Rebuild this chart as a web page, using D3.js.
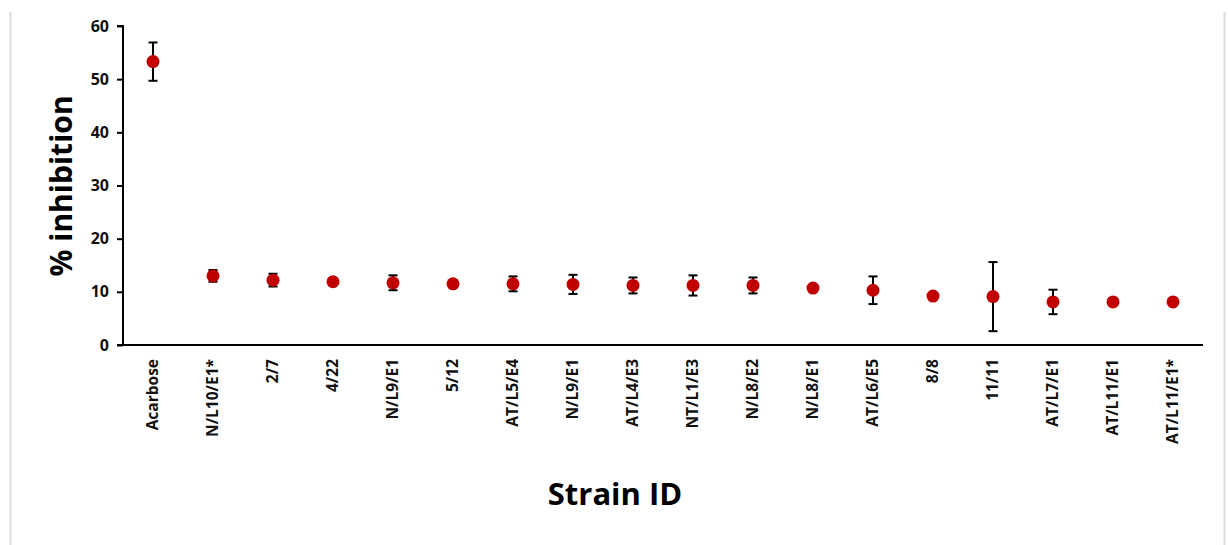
<!DOCTYPE html>
<html><head><meta charset="utf-8">
<script src="https://cdn.jsdelivr.net/npm/d3@7/dist/d3.min.js"></script>
<style>body{margin:0;background:#fff}svg{display:block}</style>
</head><body>
<script>
const categories = ["Acarbose","N/L10/E1*","2/7","4/22","N/L9/E1","5/12","AT/L5/E4","N/L9/E1 ","AT/L4/E3","NT/L1/E3","N/L8/E2","N/L8/E1","AT/L6/E5","8/8","11/11","AT/L7/E1","AT/L11/E1","AT/L11/E1*"];
const means = [53.3,13.0,12.2,11.9,11.7,11.5,11.5,11.4,11.2,11.2,11.2,10.7,10.3,9.2,9.1,8.1,8.1,8.1];
const errors = [3.6,1.1,1.2,0.5,1.4,0.5,1.4,1.8,1.5,1.9,1.5,0.5,2.6,0.3,6.5,2.3,0.3,0.3];
const yTicks = [0,10,20,30,40,50,60];
const yTitle = "% inhibition";
const xTitle = "Strain ID";

const W = 1228, H = 545;
const svg = d3.select("body").append("svg").attr("width", W).attr("height", H);
const font = "'Open Sans', 'Noto Sans', sans-serif";

// frame lines
svg.append("line").attr("x1",10.5).attr("x2",10.5).attr("y1",12).attr("y2",H).attr("stroke","#dcdcdc").attr("stroke-width",2);
svg.append("line").attr("x1",1224.5).attr("x2",1224.5).attr("y1",12).attr("y2",H).attr("stroke","#dcdcdc").attr("stroke-width",2);

const x = d3.scaleBand().domain(categories).range([123, 1203]);
const y = d3.scaleLinear().domain([0, 60]).range([345, 26]);

// y axis
const yAx = svg.append("g").attr("transform","translate(123,0)")
  .call(d3.axisLeft(y).tickValues(yTicks).tickSize(6).tickPadding(8));
yAx.attr("font-size",null).attr("font-family",null);
yAx.select(".domain").attr("stroke","#000").attr("stroke-width",2).attr("d","M-6,26H0V345H-6");
yAx.selectAll(".tick line").attr("stroke","#000").attr("stroke-width",2);
yAx.selectAll(".tick text").style("font-family",font).style("font-weight","bold").style("font-size","16px").attr("fill","#111");

// x axis
const xAx = svg.append("g").attr("transform","translate(0,345)")
  .call(d3.axisBottom(x).tickSize(0).tickPadding(0));
xAx.attr("font-size",null).attr("font-family",null);
xAx.select(".domain").attr("stroke","#000").attr("stroke-width",2).attr("d","M117,0H1203");
xAx.selectAll(".tick text")
  .style("font-family",font).style("font-weight","bold").style("font-size","15.5px").attr("fill","#111")
  .attr("transform","rotate(-90)").attr("text-anchor","end").attr("dy","0.35em").attr("x",-14).attr("y",0)
  .text(d => d.trim());

// error bars
const data = categories.map((c,i)=>({c, m: means[i], e: errors[i]}));
const eb = svg.append("g").selectAll("g").data(data).join("g")
  .attr("transform", d => `translate(${x(d.c)+x.bandwidth()/2},0)`);
eb.append("line").attr("y1", d=>y(d.m+d.e)).attr("y2", d=>y(d.m-d.e)).attr("stroke","#000").attr("stroke-width",2);
eb.append("line").attr("x1",-4.5).attr("x2",4.5).attr("y1", d=>y(d.m+d.e)).attr("y2", d=>y(d.m+d.e)).attr("stroke","#000").attr("stroke-width",2);
eb.append("line").attr("x1",-4.5).attr("x2",4.5).attr("y1", d=>y(d.m-d.e)).attr("y2", d=>y(d.m-d.e)).attr("stroke","#000").attr("stroke-width",2);
eb.append("circle").attr("cy", d=>y(d.m)).attr("r",6.5).attr("fill","#C00000");

// titles
svg.append("text").attr("transform","translate(72,186) rotate(-90)").attr("text-anchor","middle")
  .style("font-family",font).style("font-weight","bold").style("font-size","30px").attr("fill","#000").text(yTitle);
svg.append("text").attr("x",615).attr("y",505).attr("text-anchor","middle")
  .style("font-family",font).style("font-weight","bold").style("font-size","31px").attr("fill","#000").text(xTitle);
</script>
</body></html>
